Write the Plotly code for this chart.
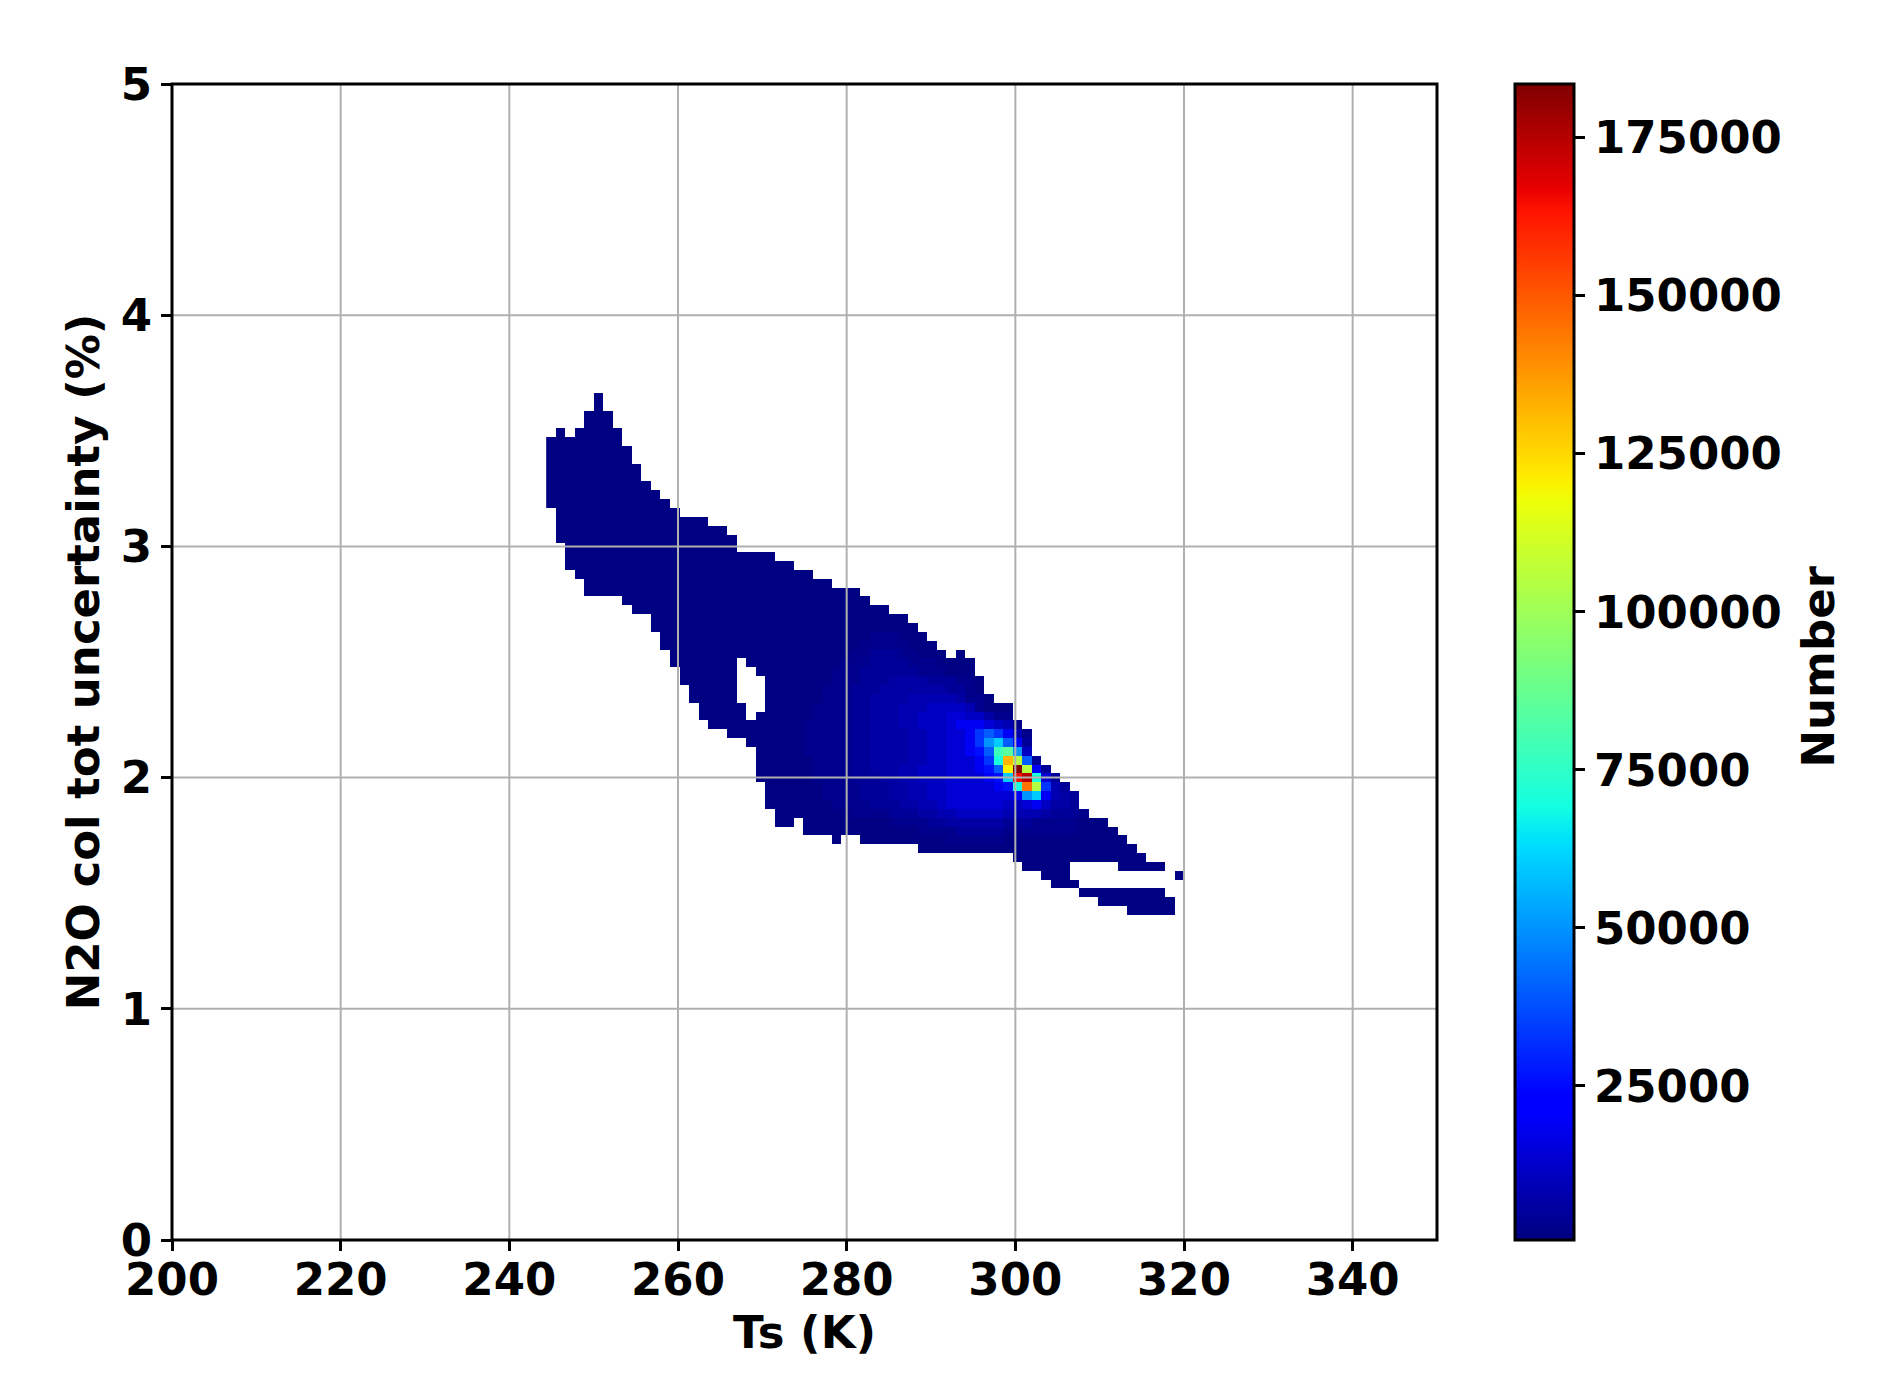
# N2O uncertainty vs surface temperature, 2D histogram
import plotly.graph_objects as go

x_ticks = [200, 220, 240, 260, 280, 300, 320, 340]
y_ticks = [0, 1, 2, 3, 4, 5]
cbar_ticks = [25000, 50000, 75000, 100000, 125000, 150000, 175000]

# bin layout
x_left = 244.37
x_step = 1.1286
y_bottom = 1.4044
y_step = 0.03829
z_low = 600
z_high = 183500

# counts for each letter used in the rows below
level_counts = {
    'a': 1000, 'b': 2500, 'c': 4500, 'd': 6500, 'e': 8500, 'f': 11000,
    'g': 14000, 'h': 19000, 'i': 26000, 'j': 33000, 'k': 40000, 'l': 50000,
    'm': 60000, 'n': 70000, 'w': 78000, 'o': 85000, 'p': 105000, 'q': 120000,
    'r': 132000, 's': 145000, 't': 165000, 'u': 175000, 'v': 183000,
}

# one line per row, top row first: letter + run length, '.' means empty bins
rows = [
    ".5 a1",
    ".5 a1",
    ".4 a3",
    ".4 a3",
    ".1 a1 .1 a5",
    "a8",
    "a9",
    "a9",
    "a10",
    "a10",
    "a11",
    "a12",
    "a13",
    ".1 a13",
    ".1 a16",
    ".1 a18",
    ".1 a19",
    ".2 a18",
    ".2 a22",
    ".2 a24",
    ".3 a25",
    ".4 a26",
    ".4 a29",
    ".8 a26",
    ".9 a27",
    ".11 a27",
    ".11 a28",
    ".12 a22 b3 a3",
    ".12 a21 b5 a3",
    ".13 a19 b2 c3 b2 a3 .1 a1",
    ".13 a7 .1 a10 b3 c4 b3 a4",
    ".14 a6 .2 a8 b3 c6 b3 a3",
    ".14 a6 .3 a7 b3 c3 d4 c3 b2 a1",
    ".15 a5 .3 a6 b3 c3 d7 c2 b1 a1",
    ".15 a5 .3 a6 b3 c2 d4 e5 d1 b2 a1",
    ".16 a5 .2 a5 b4 c2 d3 e3 f4 e1 b1 a3",
    ".16 a5 .1 a6 b4 c2 d3 e2 f3 g2 f2 d1 b2",
    ".17 a10 b5 c2 d3 e2 f3 g1 h3 g1 f1 e1 b1",
    ".19 a8 b5 c2 d4 e2 f2 g2 h1 j1 k1 j1 h1 e1 b1",
    ".21 a6 b5 c2 d4 e2 f2 g2 h1 j1 l1 m1 k1 h1 c1",
    ".22 a5 b5 c2 d4 e2 f2 g2 h1 i1 k1 w1 o1 l1 f1",
    ".22 a6 b4 c2 d4 e2 f2 g3 h1 j1 n1 r1 p1 k1 c1",
    ".22 a6 b4 c2 d3 e2 f3 g3 h1 i1 k1 q1 v1 p1 h1 c1",
    ".22 a6 b4 c3 d2 e2 f3 g4 h1 i1 m1 t1 u1 n1 g1 c1",
    ".23 a6 b4 c3 d2 e2 f2 g5 h1 i1 n1 s1 p1 j1 e1 c1",
    ".23 a6 b4 c3 d2 e2 f2 g7 h1 l1 m1 h1 e1 d1 c1",
    ".23 a7 b4 c3 d2 e2 f1 g6 f2 g1 h1 f1 d2 c1",
    ".24 a8 b4 c3 d2 e2 f5 e4 d1 c3 b1",
    ".24 a2 .1 a9 b4 c2 d6 c3 b5 a3",
    ".27 a12 b4 c5 b8 a4",
    ".30 a1 .2 a9 b6 a13",
    ".39 a23",
    ".49 a14",
    ".50 a5 .5 a5",
    ".52 a3 .11 a1",
    ".53 a3",
    ".56 a9",
    ".58 a8",
    ".61 a5",
]

# matplotlib jet
jet = [
    [0.0, 'rgb(0,0,128)'], [0.11, 'rgb(0,0,255)'], [0.125, 'rgb(0,0,255)'],
    [0.34, 'rgb(0,219,255)'], [0.35, 'rgb(0,230,247)'], [0.375, 'rgb(20,255,226)'],
    [0.64, 'rgb(238,255,8)'], [0.65, 'rgb(247,246,0)'], [0.66, 'rgb(255,236,0)'],
    [0.89, 'rgb(255,19,0)'], [0.91, 'rgb(232,0,0)'], [1.0, 'rgb(128,0,0)'],
]

n_cols = 67
z = []
for line in rows:
    cells = []
    for run in line.split():
        if run[0] == '.':
            cells += [None] * int(run[1:])
        else:
            cells += [level_counts[run[0]]] * int(run[1:])
    z.append(cells + [None] * (n_cols - len(cells)))
z.reverse()

tick_font = dict(family='DejaVu Sans', size=45, color='black', weight=700)

fig = go.Figure()
fig.add_trace(go.Heatmap(
    z=z,
    x0=x_left + x_step / 2, dx=x_step,
    y0=y_bottom + y_step / 2, dy=y_step,
    colorscale=jet, zmin=z_low, zmax=z_high,
    colorbar=dict(
        x=(1515 - 172) / 1265, xanchor='left', xpad=0,
        y=0.5, yanchor='middle', ypad=0, len=1,
        thickness=59,
        outlinewidth=3, outlinecolor='black',
        tickvals=cbar_ticks, tickformat='d', ticks='outside', ticklen=10, tickwidth=3,
        tickcolor='black', tickfont=tick_font,
    ),
))

# grid has to sit on top of the cells, so shapes instead of axis grid
grid = dict(color='#b0b0b0', width=2)
for v in x_ticks[1:]:
    fig.add_shape(type='line', x0=v, x1=v, y0=0, y1=5, line=grid, layer='above')
for v in y_ticks[1:-1]:
    fig.add_shape(type='line', x0=200, x1=350, y0=v, y1=v, line=grid, layer='above')
# frame centred on the plot edge, paper refs so it does not get clipped
fig.add_shape(type='rect', xref='paper', yref='paper', x0=0, x1=1, y0=0, y1=1,
              line=dict(color='black', width=3), layer='above')

fig.add_annotation(
    text='Number', xref='paper', yref='paper',
    x=1 + (1819 - 1437) / 1265, y=0.496, textangle=-90, showarrow=False,
    xanchor='center', yanchor='middle', font=tick_font,
)

axis_style = dict(
    showgrid=False, zeroline=False, showline=False,
    ticks='outside', ticklen=10, tickwidth=3,
    tickcolor='black', tickfont=tick_font,
)
fig.update_xaxes(
    range=[200, 350], tickvals=x_ticks, ticklabelstandoff=-10,
    title=dict(text='Ts (K)', font=tick_font, standoff=10), **axis_style,
)
fig.update_yaxes(
    range=[0, 5], tickvals=y_ticks,
    title=dict(text='N2O col tot uncertainty (%)', font=tick_font, standoff=6), **axis_style,
)
fig.update_layout(
    width=1880, height=1396, autosize=False,
    margin=dict(l=172, r=443, t=84, b=156, autoexpand=False),
    paper_bgcolor='white', plot_bgcolor='white',
)

fig.write_html("out.html", config=dict(displayModeBar=False),
               post_script="document.body.style.margin='0'")
